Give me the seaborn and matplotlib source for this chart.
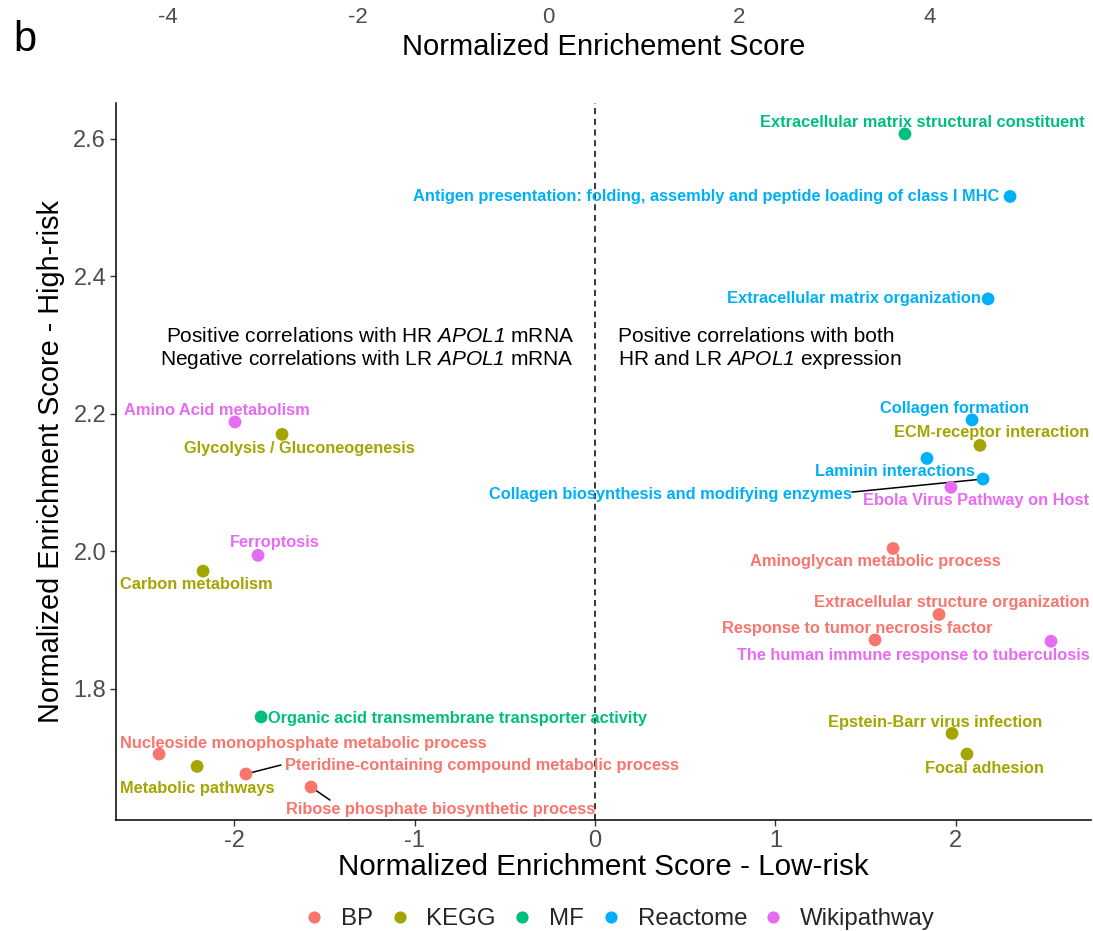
import numpy as np
import pandas as pd
import matplotlib
matplotlib.use("Agg")
import matplotlib.pyplot as plt
import seaborn as sns

# ---------------- data ----------------
terms = [
    "Extracellular matrix structural constituent",
    "Antigen presentation: folding, assembly and peptide loading of class I MHC",
    "Extracellular matrix organization",
    "Amino Acid metabolism",
    "Glycolysis / Gluconeogenesis",
    "Collagen formation",
    "ECM-receptor interaction",
    "Laminin interactions",
    "Collagen biosynthesis and modifying enzymes",
    "Ebola Virus Pathway on Host",
    "Ferroptosis",
    "Carbon metabolism",
    "Aminoglycan metabolic process",
    "Extracellular structure organization",
    "Response to tumor necrosis factor",
    "The human immune response to tuberculosis",
    "Organic acid transmembrane transporter activity",
    "Nucleoside monophosphate metabolic process",
    "Metabolic pathways",
    "Pteridine-containing compound metabolic process",
    "Ribose phosphate biosynthetic process",
    "Epstein-Barr virus infection",
    "Focal adhesion",
]
database = [
    "MF", "Reactome", "Reactome", "Wikipathway", "KEGG", "Reactome", "KEGG",
    "Reactome", "Reactome", "Wikipathway", "Wikipathway", "KEGG", "BP", "BP",
    "BP", "Wikipathway", "MF", "BP", "KEGG", "BP", "BP", "KEGG", "KEGG",
]
nes_low = [1.719, 2.302, 2.180, -1.997, -1.736, 2.091, 2.135, 1.841, 2.152,
           1.974, -1.869, -2.174, 1.653, 1.908, 1.553, 2.529, -1.852, -2.418,
           -2.207, -1.936, -1.575, 1.980, 2.063]
nes_high = [2.607, 2.516, 2.367, 2.188, 2.170, 2.191, 2.154, 2.135, 2.105,
            2.093, 1.994, 1.971, 2.004, 1.908, 1.871, 1.869, 1.759, 1.705,
            1.687, 1.676, 1.657, 1.735, 1.705]

hue_order = ["BP", "KEGG", "MF", "Reactome", "Wikipathway"]
palette = {"BP": "#F8766D", "KEGG": "#A3A500", "MF": "#00BF7D",
           "Reactome": "#00B0F6", "Wikipathway": "#E76BF3"}

# label placement (layout)
label_pos = [
    (1.814, 2.624), (0.616, 2.516), (1.436, 2.367), (-2.097, 2.205),
    (-1.642, 2.150), (1.991, 2.208), (2.202, 2.172), (1.664, 2.116),
    (0.416, 2.083), (2.113, 2.074), (-1.775, 2.012), (-2.213, 1.952),
    (1.553, 1.985), (1.980, 1.926), (1.453, 1.888), (1.764, 1.849),
    (-0.765, 1.757), (-1.620, 1.721), (-2.207, 1.655), (-0.627, 1.689),
    (-0.854, 1.625), (1.886, 1.751), (2.158, 1.684),
]
# leader segments: term index -> start point near label
segments = {8: (1.425, 2.086), 19: (-1.742, 1.689), 20: (-1.470, 1.638)}

df = pd.DataFrame({"term": terms, "db": database, "low": nes_low, "high": nes_high})

# ---------------- style ----------------
sns.set_theme(style="ticks")
plt.rcParams["font.family"] = ["Liberation Sans", "DejaVu Sans"]
plt.rcParams["mathtext.fontset"] = "custom"
plt.rcParams["mathtext.it"] = "Liberation Sans:italic"
plt.rcParams["mathtext.rm"] = "Liberation Sans:italic"
plt.rcParams["axes.unicode_minus"] = False

fig = plt.figure(figsize=(10.93, 9.31), dpi=100)
ax = fig.add_axes([0.1061, 0.1192, 0.8921, 0.7702])

sns.scatterplot(data=df, x="low", y="high", hue="db", hue_order=hue_order,
                palette=palette, s=85, edgecolor="none", ax=ax, zorder=3)

ax.axvline(0, color="black", linestyle=(0, (4, 3)), linewidth=1.1, zorder=1)

for i, (t, d) in enumerate(zip(terms, database)):
    lx, ly = label_pos[i]
    ax.text(lx, ly, t, color=palette[d], fontsize=11.8, fontweight="bold",
            ha="center", va="center", zorder=4)
for i, (sx, sy) in segments.items():
    ax.plot([sx, nes_low[i]], [sy, nes_high[i]], color="black", lw=1.1, zorder=2)

ax.text(-0.116, 2.294,
        "Positive correlations with HR $APOL1$ mRNA\n"
        "Negative correlations with LR $APOL1$ mRNA",
        ha="right", va="center", fontsize=15, color="black", linespacing=1.15)
ax.text(0.128, 2.294,
        "Positive correlations with both\nHR and LR $APOL1$ expression",
        ha="left", va="center", fontsize=15, color="black", linespacing=1.15)

ax.set_xlim(-2.657, 2.751)
ax.set_ylim(1.609, 2.652)
ax.set_xticks([-2, -1, 0, 1, 2])
ax.set_yticks([1.8, 2.0, 2.2, 2.4, 2.6])
ax.set_yticklabels(["1.8", "2.0", "2.2", "2.4", "2.6"])
ax.tick_params(axis="both", length=4, width=1, color="#333333",
               labelcolor="#4D4D4D", labelsize=17, pad=3)
for s in ["top", "right"]:
    ax.spines[s].set_visible(False)
for s in ["left", "bottom"]:
    ax.spines[s].set_color("black")
    ax.spines[s].set_linewidth(1.1)
ax.set_xlabel("Normalized Enrichment Score - Low-risk", fontsize=21.3, color="black", labelpad=1)
ax.set_ylabel("Normalized Enrichment Score - High-risk", fontsize=20.8, color="black", labelpad=6)

handles, labels = ax.get_legend_handles_labels()
ax.get_legend().remove()
fig.legend(handles, labels, loc="center", bbox_to_anchor=(0.566, 1 - 919 / 931),
           ncol=5, frameon=False, fontsize=17.3, handlelength=1.0,
           handletextpad=0.62, columnspacing=0.6, markerscale=0.95)

# top axis (from panel above)
ax_top = fig.add_axes([0.1061, 1 - 6 / 931, 0.8921, 0.0001])
ax_top.set_xlim(-4.54, 5.69)
ax_top.set_xticks([-4, -2, 0, 2, 4])
ax_top.set_yticks([])
ax_top.tick_params(axis="x", length=0, pad=1, labelsize=16, labelcolor="#4D4D4D")
for s in ax_top.spines.values():
    s.set_visible(False)
ax_top.patch.set_alpha(0)
ax_top.set_xlabel("Normalized Enrichement Score", fontsize=21, color="black", labelpad=3)

fig.text(0.012, 1 - 40 / 931, "b", fontsize=30, va="center", ha="left", color="black")

fig.savefig("out.png", dpi=100)
